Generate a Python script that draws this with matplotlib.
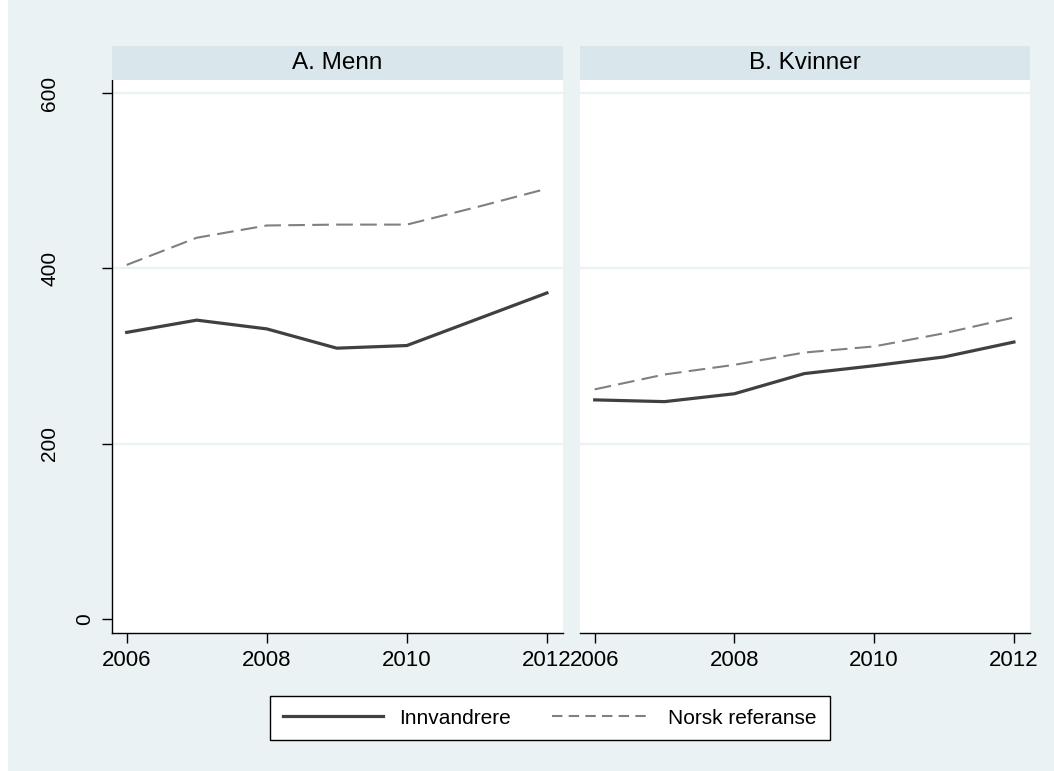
import matplotlib
matplotlib.use("Agg")
import matplotlib.pyplot as plt
from matplotlib.lines import Line2D
from matplotlib.patches import Rectangle

plt.rcParams['font.family'] = ['Liberation Sans', 'DejaVu Sans']

years = [2006, 2007, 2008, 2009, 2010, 2011, 2012]
panels = ['A. Menn', 'B. Kvinner']
menn_innv = [327, 341, 331, 309, 312, 342, 372]
menn_norsk = [404, 435, 449, 450, 450, 470, 491]
kvinner_innv = [250, 248, 257, 280, 289, 299, 316]
kvinner_norsk = [262, 279, 290, 304, 311, 326, 344]
series_names = ['Innvandrere', 'Norsk referanse']
xticks = [2006, 2008, 2010, 2012]
yticks = [0, 200, 400, 600]

W, H = 1054, 771
bg = '#eaf2f3'
head = '#d9e6eb'
grid_col = '#eaf2f3'
c_innv = '#404040'
c_norsk = '#808080'

fig = plt.figure(figsize=(W / 100, H / 100), dpi=100)
fig.patch.set_facecolor(bg)
# thin white strip at the left edge of the exported picture
fig.patches.append(Rectangle((0, 0), 8 / W, 1, transform=fig.transFigure,
                             facecolor='white', edgecolor='none', zorder=0))

def px_axes(x0, x1, y0, y1):
    return fig.add_axes([x0 / W, 1 - y1 / H, (x1 - x0) / W, (y1 - y0) / H])

boxes = [(112, 563), (580, 1030)]
data = [(menn_innv, menn_norsk), (kvinner_innv, kvinner_norsk)]

for i, ((x0, x1), (innv, norsk), title) in enumerate(zip(boxes, data, panels)):
    ax = px_axes(x0, x1, 80, 633)
    ax.set_facecolor('white')
    ax.set_xlim(2005.79, 2012.23)
    ax.set_ylim(-16, 615)
    for y in [200, 400, 600]:
        ax.axhline(y, color=grid_col, lw=1.6, zorder=0)
    ax.plot(years, norsk, color=c_norsk, lw=1.5, dashes=(8, 3.5), zorder=2)
    ax.plot(years, innv, color=c_innv, lw=2.3, zorder=3)
    ax.set_xticks(xticks)
    ax.set_xticklabels([str(t) for t in xticks], fontsize=16)
    ax.tick_params(axis='x', length=7, width=1, pad=5, direction='out')
    for s in ['top', 'right']:
        ax.spines[s].set_visible(False)
    ax.spines['bottom'].set_linewidth(1)
    if i == 0:
        ax.set_yticks(yticks)
        ax.set_yticklabels([str(t) for t in yticks], fontsize=15,
                           rotation=90, va='center')
        ax.tick_params(axis='y', length=7, width=1)
        # Stata places the one-digit label much closer to the axis
        for tk, t in zip(ax.yaxis.get_major_ticks(), yticks):
            tk.set_pad(6 if t == 0 else 31)
        ax.spines['left'].set_linewidth(1)
    else:
        ax.set_yticks([])
        ax.spines['left'].set_visible(False)
    # panel header strip
    hx = px_axes(x0, x1, 46, 80)
    hx.set_facecolor(head)
    hx.set_xticks([])
    hx.set_yticks([])
    for s in hx.spines.values():
        s.set_visible(False)
    hx.text(0.5, 0.5, title, ha='center', va='center', fontsize=17.5,
            transform=hx.transAxes)

handles = [Line2D([], [], color=c_innv, lw=2.3),
           Line2D([], [], color=c_norsk, lw=1.5, dashes=(5, 3))]
leg = fig.legend(handles, series_names, loc='center',
                 bbox_to_anchor=(550 / W, 1 - 718 / H), ncol=2, fontsize=15,
                 frameon=True, fancybox=False, framealpha=1,
                 handlelength=4.8, columnspacing=2.0, borderpad=0.6,
                 handletextpad=0.77)
leg.get_frame().set_edgecolor('black')
leg.get_frame().set_linewidth(1)
leg.get_frame().set_facecolor('white')

fig.savefig('out.png', dpi=100, facecolor=bg)
